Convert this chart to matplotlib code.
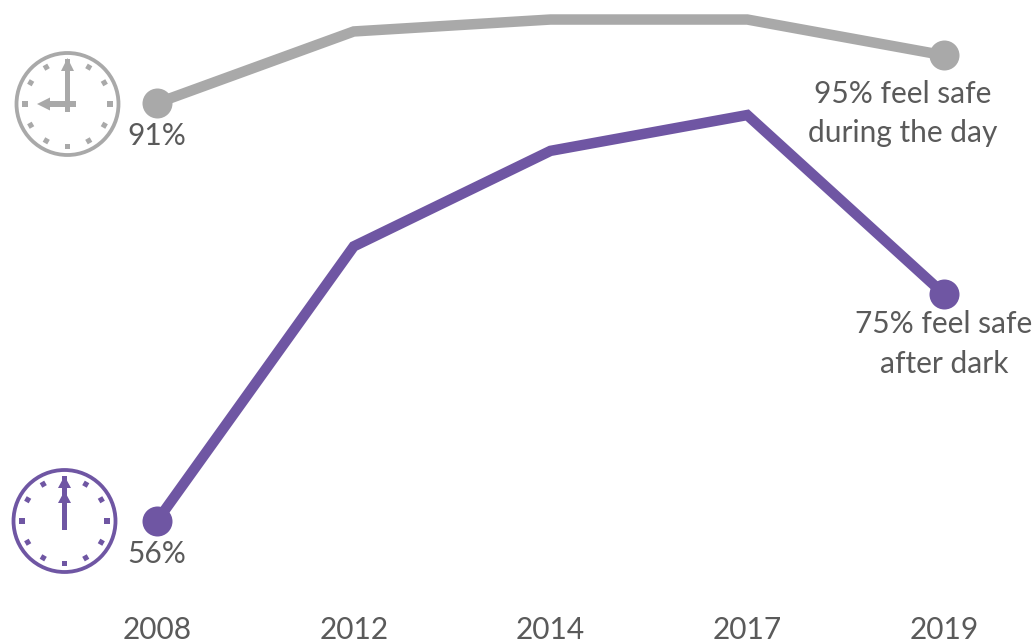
import numpy as np
import matplotlib
matplotlib.use("Agg")
import matplotlib.pyplot as plt
from matplotlib.patches import Circle, Polygon, Rectangle

years = ["2008", "2012", "2014", "2017", "2019"]
day = [91, 97, 98, 98, 95]
dark = [56, 79, 87, 90, 75]

GRAY = "#a9a9a9"
PURPLE = "#6f56a3"
TEXT = "#5a5a5a"
W, H = 1035, 644
plt.rcParams["font.family"] = ["Lato", "DejaVu Sans"]

fig = plt.figure(figsize=(W / 100, H / 100), dpi=100)
ax = fig.add_axes([0, 0, 1, 1])
ux, uy = 196.75, 11.94
ax.set_xlim(-157 / ux, (W - 157) / ux)
ax.set_ylim(56 - (H - 521) / uy, 56 + 521 / uy)
ax.axis("off")
xs = np.arange(len(years))
lw = 10.5 * 72 / 100
for vals, c in ((day, GRAY), (dark, PURPLE)):
    ax.plot(xs, vals, color=c, lw=lw, solid_joinstyle="miter", solid_capstyle="butt", zorder=2)
    ax.plot([xs[0], xs[-1]], [vals[0], vals[-1]], ls="", marker="o", ms=30 * 72 / 100,
            mec="none", color=c, zorder=3)

fs = 21.5
kw = dict(fontsize=fs, fontweight="normal", color=TEXT, ha="center", va="center", linespacing=1.5)
for x, y in zip(xs, years):
    ax.text(x, 56 - (630 - 521) / uy, y, **kw)
ax.text(0, 91 - 33 / uy, "91%", **kw)
ax.text(0, 56 - 33 / uy, "56%", **kw)
ax.text(3.79, 95 - 58 / uy, "95% feel safe\nduring the day", **kw)
ax.text(4.0, 75 - 50 / uy, "75% feel safe\nafter dark", **kw)

# clock icons, drawn in an overlay with pixel coordinates
ov = fig.add_axes([0, 0, 1, 1])
ov.set_xlim(0, W)
ov.set_ylim(H, 0)
ov.axis("off")
ov.patch.set_alpha(0)

def clock(cx, cy, c):
    ov.add_patch(Circle((cx, cy), 51, fc="none", ec=c, lw=3.8 * 72 / 100))
    for k in range(12):
        a = np.pi * k / 6
        px, py = cx + 42.5 * np.sin(a), cy - 42.5 * np.cos(a)
        t = matplotlib.transforms.Affine2D().rotate_around(px, py, a) + ov.transData
        ov.add_patch(Rectangle((px - 2.6, py - 2.6), 5.2, 5.2, fc=c, ec="none", transform=t))

def head(x, y, w, h, c, direction="up"):
    if direction == "up":
        pts = [(x, y), (x - w / 2, y + h), (x + w / 2, y + h)]
    else:
        pts = [(x, y), (x + h, y - w / 2), (x + h, y + w / 2)]
    ov.add_patch(Polygon(pts, fc=c, ec="none"))

clock(67.5, 104, GRAY)
ov.add_patch(Rectangle((64.7, 66), 5.6, 46, fc=GRAY, ec="none"))
head(67.5, 58, 13, 13, GRAY)
ov.add_patch(Rectangle((45, 101.2), 31, 5.6, fc=GRAY, ec="none"))
head(37, 104, 13, 13, GRAY, "left")

clock(64.5, 521, PURPLE)
ov.add_patch(Rectangle((61.7, 487), 5.6, 43, fc=PURPLE, ec="none"))
head(64.5, 476, 13, 12, PURPLE)
head(64.5, 491, 13, 12, PURPLE)

fig.savefig("out.png", dpi=100, facecolor="white")
